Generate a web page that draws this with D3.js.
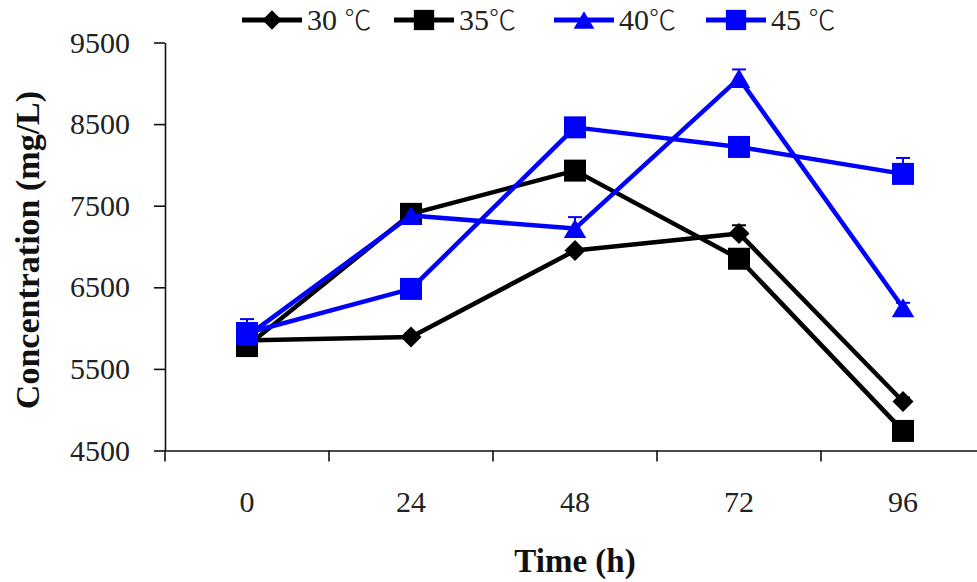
<!DOCTYPE html>
<html>
<head>
<meta charset="utf-8">
<script src="https://cdn.jsdelivr.net/npm/d3@7"></script>
<style>
  body { margin: 0; background: #fff; }
  text { font-family: "Liberation Serif", "Times New Roman", serif; }
</style>
</head>
<body>
<script>
// sampling times (h) and concentrations (mg/L)
var times = ["0", "24", "48", "72", "96"];
var c30 = [5850, 5890, 6950, 7160, 5100];
var c35 = [5780, 7400, 7930, 6850, 4740];
var c40 = [5900, 7380, 7220, 9060, 6250];
var c45 = [5940, 6480, 8460, 8220, 7890];
// plus-side error bars
var err30 = [0, 40, 0, 100, 50];
var err35 = [0, 0, 0, 0, 0];
var err40 = [0, 0, 140, 110, 60];
var err45 = [170, 0, 0, 0, 195];
var yTicks = [4500, 5500, 6500, 7500, 8500, 9500];
var temps = ["30", "35", "40", "45"];
var gaps = [" ", "", "", " "];

var width = 977, height = 582;
var margin = ({top: 42.5, right: -8, bottom: 131.5, left: 165});

// bbox-centred marker shapes, like the spreadsheet ones
var diamond = {draw: function (ctx, size) {
  var r = Math.sqrt(size / 2);
  ctx.moveTo(0, -r); ctx.lineTo(r, 0); ctx.lineTo(0, r); ctx.lineTo(-r, 0); ctx.closePath();
}};
var square = {draw: function (ctx, size) {
  var r = Math.sqrt(size) / 2;
  ctx.rect(-r, -r, 2 * r, 2 * r);
}};
var triangle = {draw: function (ctx, size) {
  var w = Math.sqrt(size * 2.2), h = w * 0.85;
  ctx.moveTo(0, -h / 2); ctx.lineTo(w / 2, h / 2); ctx.lineTo(-w / 2, h / 2); ctx.closePath();
}};

var series = [
  {t: temps[0], gap: gaps[0], values: c30, err: err30, color: "#000", shape: diamond, size: 220},
  {t: temps[1], gap: gaps[1], values: c35, err: err35, color: "#000", shape: square, size: 484},
  {t: temps[2], gap: gaps[2], values: c40, err: err40, color: "#0000ff", shape: triangle, size: 230},
  {t: temps[3], gap: gaps[3], values: c45, err: err45, color: "#0000ff", shape: square, size: 484}
];

var x = d3.scaleBand()
    .domain(times)
    .range([margin.left, width - margin.right])
    .padding(0);

var y = d3.scaleLinear()
    .domain([4500, 9500])
    .range([height - margin.bottom, margin.top]);

var svg = d3.select("body").append("svg")
    .attr("width", width)
    .attr("height", height);

// y axis
var yAxis = svg.append("g")
    .attr("transform", `translate(${margin.left},0)`)
    .call(d3.axisLeft(y).tickValues(yTicks).tickFormat(d3.format("d"))
      .tickSize(11).tickPadding(24).tickSizeOuter(0));
yAxis.select(".domain").attr("stroke", "#111").attr("stroke-width", 1.6);
yAxis.selectAll(".tick line").attr("stroke", "#111").attr("stroke-width", 1.6);
yAxis.selectAll(".tick text")
    .attr("font-size", 30)
    .attr("fill", "#222")
    .style("font-family", "Liberation Serif");

// x axis: labels in the middle of each band, ticks on band edges
var xAxis = svg.append("g")
    .attr("transform", `translate(0,${height - margin.bottom})`)
    .call(d3.axisBottom(x).tickSize(0).tickPadding(40));
xAxis.select(".domain").attr("stroke", "#111").attr("stroke-width", 1.6);
xAxis.selectAll(".tick text")
    .attr("font-size", 30)
    .attr("fill", "#222")
    .style("font-family", "Liberation Serif");
xAxis.selectAll(".edge")
    .data(times)
    .enter().append("line")
      .attr("class", "edge")
      .attr("x1", d => x(d))
      .attr("x2", d => x(d))
      .attr("y1", 0)
      .attr("y2", 11)
      .attr("stroke", "#111")
      .attr("stroke-width", 1.6);

// axis titles
svg.append("text")
    .attr("x", (margin.left + width - margin.right) / 2)
    .attr("y", 572)
    .attr("text-anchor", "middle")
    .attr("font-size", 33)
    .attr("font-weight", "bold")
    .attr("fill", "#111")
    .text("Time (h)");

svg.append("text")
    .attr("transform", "translate(27,250) rotate(-90)")
    .attr("text-anchor", "middle")
    .attr("dominant-baseline", "central")
    .attr("font-size", 34)
    .attr("font-weight", "bold")
    .attr("fill", "#111")
    .text("Concentration (mg/L)");

var cx = d => x(d) + x.bandwidth() / 2;
var line = d3.line()
    .x((d, i) => cx(times[i]))
    .y(d => y(d));

series.forEach(s => {
  var g = svg.append("g");
  g.append("path")
      .datum(s.values)
      .attr("fill", "none")
      .attr("stroke", s.color)
      .attr("stroke-width", 4.5)
      .attr("stroke-linejoin", "round")
      .attr("d", line);

  var eb = g.selectAll(".err")
    .data(s.values.map((v, i) => ({t: times[i], v: v, e: s.err[i]})).filter(d => d.e > 0))
    .enter().append("g");
  eb.append("line")
      .attr("x1", d => cx(d.t)).attr("x2", d => cx(d.t))
      .attr("y1", d => y(d.v)).attr("y2", d => y(d.v + d.e))
      .attr("stroke", s.color).attr("stroke-width", 2);
  eb.append("line")
      .attr("x1", d => cx(d.t) - 7).attr("x2", d => cx(d.t) + 7)
      .attr("y1", d => y(d.v + d.e)).attr("y2", d => y(d.v + d.e))
      .attr("stroke", s.color).attr("stroke-width", 2);

  g.selectAll(".mark")
    .data(s.values)
    .enter().append("path")
      .attr("transform", (d, i) => `translate(${cx(times[i])},${y(d)})`)
      .attr("d", d3.symbol().type(s.shape).size(s.size))
      .attr("fill", s.color);
});

// legend
var legendX = [242, 394, 554, 706];
var leg = svg.append("g")
    .selectAll("g")
    .data(series)
    .enter().append("g")
      .attr("transform", (d, i) => `translate(${legendX[i]},20)`);
leg.append("line")
    .attr("x1", 0).attr("x2", 60)
    .attr("stroke", d => d.color)
    .attr("stroke-width", 5);
leg.append("path")
    .attr("transform", "translate(30,0)")
    .attr("d", d => d3.symbol().type(d.shape).size(d.size * 0.85)())
    .attr("fill", d => d.color);
var lt = leg.append("text")
    .attr("x", 65)
    .attr("y", 10)
    .attr("font-size", 30)
    .attr("fill", "#222")
    .style("font-family", "Liberation Serif");
lt.append("tspan")
    .style("font-family", "'Liberation Serif', serif")
    .text(d => d.t + d.gap);
lt.append("tspan")
    .style("font-family", "'Noto Sans CJK SC', 'DejaVu Serif'")
    .attr("font-size", 27)
    .attr("font-weight", 300)
    .text("\u2103");

svg.node();
</script>
</body>
</html>
